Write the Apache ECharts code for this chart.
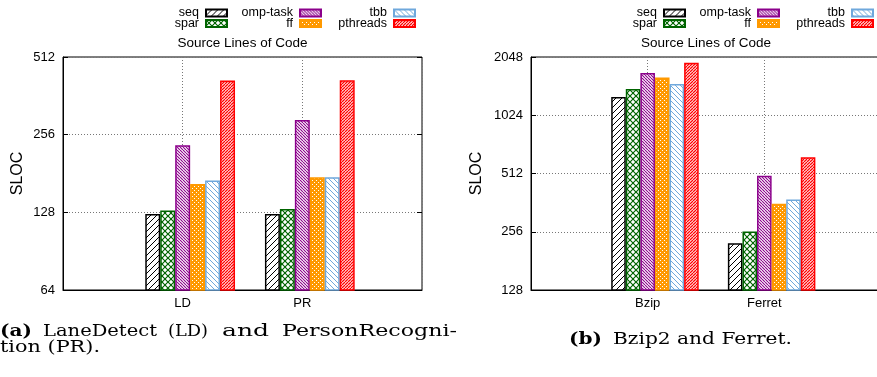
<!DOCTYPE html>
<html>
<head>
<meta charset="utf-8">
<script src="https://cdn.jsdelivr.net/npm/echarts@6/dist/echarts.min.js"></script>
<style>
  html, body { margin: 0; padding: 0; background: #fff; }
  #chart { width: 877px; height: 377px; }
</style>
</head>
<body>
<div id="chart"></div>
<script>
const seriesNames = ['seq', 'spar', 'omp-task', 'ff', 'tbb', 'pthreads'];

// (a) LaneDetect / PersonRecognition
const catsA = ['LD', 'PR'];
const ticksA = [64, 128, 256, 512];
const seqA = [126, 126];
const sparA = [130, 132];
const ompA = [233, 292];
const ffA = [165, 175];
const tbbA = [170, 175];
const pthreadsA = [415, 416];

// (b) Bzip2 / Ferret
const catsB = ['Bzip', 'Ferret'];
const ticksB = [128, 256, 512, 1024, 2048];
const seqB = [1273, 223];
const sparB = [1400, 257];
const ompB = [1694, 498];
const ffB = [1603, 357];
const tbbB = [1485, 376];
const pthreadsB = [1915, 622];

const valuesA = [seqA, sparA, ompA, ffA, tbbA, pthreadsA];
const valuesB = [seqB, sparB, ompB, ffB, tbbB, pthreadsB];

const colors = ['#000000', '#006400', '#8b008b', '#ff9900', '#6fa8dc', '#ff0000'];

// hatch fills, gnuplot style
function makeTile(size, bg, draw) {
    const c = document.createElement('canvas');
    c.width = size;
    c.height = size;
    const ctx = c.getContext('2d');
    ctx.fillStyle = bg;
    ctx.fillRect(0, 0, size, size);
    draw(ctx, size);
    return { image: c, repeat: 'repeat' };
}
function diag(ctx, s, dir, color, w) {
    ctx.strokeStyle = color;
    ctx.lineWidth = w;
    ctx.beginPath();
    for (let k = -1; k <= 1; k++) {
        if (dir > 0) { ctx.moveTo(k * s, s); ctx.lineTo(k * s + s, 0); }
        else { ctx.moveTo(k * s, 0); ctx.lineTo(k * s + s, s); }
    }
    ctx.stroke();
}
const patterns = [
    makeTile(6, '#fff', (ctx, s) => diag(ctx, s, 1, colors[0], 1)),
    makeTile(6, '#fff', (ctx, s) => { diag(ctx, s, 1, colors[1], 1.2); diag(ctx, s, -1, colors[1], 1.2); }),
    makeTile(3, '#fff', (ctx, s) => diag(ctx, s, -1, colors[2], 1.1)),
    makeTile(4, colors[3], (ctx) => { ctx.fillStyle = '#fff'; ctx.fillRect(0, 0, 1, 1); ctx.fillRect(2, 2, 1, 1); }),
    makeTile(5, '#fff', (ctx, s) => diag(ctx, s, -1, colors[4], 1)),
    makeTile(3, '#fff', (ctx, s) => diag(ctx, s, 1, colors[5], 1.3))
];

const FONT = 'Liberation Sans';

function barSeries(values, idx) {
    // empty first slot shifts each cluster half a bar right, like gnuplot
    const list = [{
        name: '_pad', type: 'bar', xAxisIndex: idx, yAxisIndex: idx,
        data: [null, null, null, null], barWidth: '12.5%', barGap: '0%', silent: true
    }];
    seriesNames.forEach((n, i) => {
        list.push({
            name: n, type: 'bar', xAxisIndex: idx, yAxisIndex: idx,
            barWidth: '12.5%', barGap: '0%',
            data: [null, ...values[i], null],
            itemStyle: { color: patterns[i], borderColor: colors[i], borderWidth: 1.5 }
        });
    });
    return list;
}

function xAxisFor(cats, idx) {
    return {
        type: 'category', gridIndex: idx, data: ['', ...cats, ''], boundaryGap: false,
        axisLine: { show: true, lineStyle: { color: '#000' } },
        axisTick: { show: false },
        axisLabel: { interval: 0, margin: 7, fontSize: 13, fontFamily: FONT, color: '#000' },
        splitLine: { show: true, interval: 0, lineStyle: { color: '#777', type: [1, 2] } }
    };
}
function yAxisFor(ticks, idx, gap) {
    return {
        type: 'log', logBase: 2, gridIndex: idx,
        min: ticks[0], max: ticks[ticks.length - 1],
        name: 'SLOC', nameLocation: 'middle', nameGap: gap, nameRotate: 90,
        nameTextStyle: { fontSize: 16, fontFamily: FONT, color: '#000' },
        axisLine: { show: true, lineStyle: { color: '#000' } },
        axisTick: { show: true, inside: true, length: 5, lineStyle: { color: '#000' } },
        axisLabel: {
            margin: 8, fontSize: 13, fontFamily: FONT, color: '#000',
            formatter: v => String(Math.round(v))
        },
        splitLine: { show: true, lineStyle: { color: '#777', type: [1, 2] } }
    };
}

// one legend per key so text sits left of swatch in a 3x2 grid
const legendCols = [[228, 322, 416], [686, 780, 874]];
const legendRows = [6.5, 17];
const legends = [];
legendCols.forEach(cols => {
    seriesNames.forEach((n, i) => {
        legends.push({
            data: [n], right: 877 - cols[Math.floor(i / 2)], top: legendRows[i % 2],
            align: 'right', icon: 'rect', itemWidth: 21, itemHeight: 7, padding: 0,
            selectedMode: false,
            textStyle: { fontSize: 12.5, fontFamily: FONT, color: '#000', padding: [0, 2, 0, 0] }
        });
    });
});

// captions (serif, stretched to the widths in the figure)
const mctx = document.createElement('canvas').getContext('2d');
function capWord(text, x0, x1, y, bold) {
    const font = (bold ? 'bold ' : '') + '17px "DejaVu Serif"';
    mctx.font = font;
    const w = mctx.measureText(text).width;
    return {
        type: 'text', x: x0, y: y, scaleX: (x1 - x0) / w,
        style: { text: text, font: font, fill: '#000', align: 'left', verticalAlign: 'middle' }
    };
}
const captions = [
    capWord('(a)', 0, 32, 332, true),
    capWord('LaneDetect', 43, 157, 332),
    capWord('(LD)', 168, 208, 332),
    capWord('and', 222, 269, 332),
    capWord('PersonRecogni-', 282, 457, 332),
    capWord('tion (PR).', 0, 100, 347.5),
    capWord('(b)', 569, 602, 340, true),
    capWord('Bzip2 and Ferret.', 613, 792, 340)
];

const titleStyle = { fontSize: 13.5, fontWeight: 'normal', fontFamily: FONT, color: '#000' };

const chart = echarts.init(document.getElementById('chart'), null, { renderer: 'canvas' });
chart.setOption({
    animation: false,
    backgroundColor: '#fff',
    title: [
        { text: 'Source Lines of Code', left: 242.5, top: 36, textAlign: 'center', padding: 0, textStyle: titleStyle },
        { text: 'Source Lines of Code', left: 706, top: 36, textAlign: 'center', padding: 0, textStyle: titleStyle }
    ],
    legend: legends,
    grid: [
        { left: 63, top: 57, width: 359, height: 233, show: true, borderColor: '#000', borderWidth: 1, backgroundColor: 'transparent', outerBoundsMode: 'none' },
        { left: 531, top: 57, width: 350, height: 233, show: true, borderColor: '#000', borderWidth: 1, backgroundColor: 'transparent', outerBoundsMode: 'none' }
    ],
    xAxis: [xAxisFor(catsA, 0), xAxisFor(catsB, 1)],
    yAxis: [
        yAxisFor(ticksA, 0, 37),
        yAxisFor(ticksB, 1, 46),
        {
            type: 'log', logBase: 2, gridIndex: 0, position: 'right',
            min: ticksA[0], max: ticksA[ticksA.length - 1],
            axisLine: { show: false }, axisLabel: { show: false }, splitLine: { show: false },
            axisTick: { show: true, inside: true, length: 5, lineStyle: { color: '#000' } }
        }
    ],
    series: [...barSeries(valuesA, 0), ...barSeries(valuesB, 1)],
    graphic: captions
});
</script>
</body>
</html>
